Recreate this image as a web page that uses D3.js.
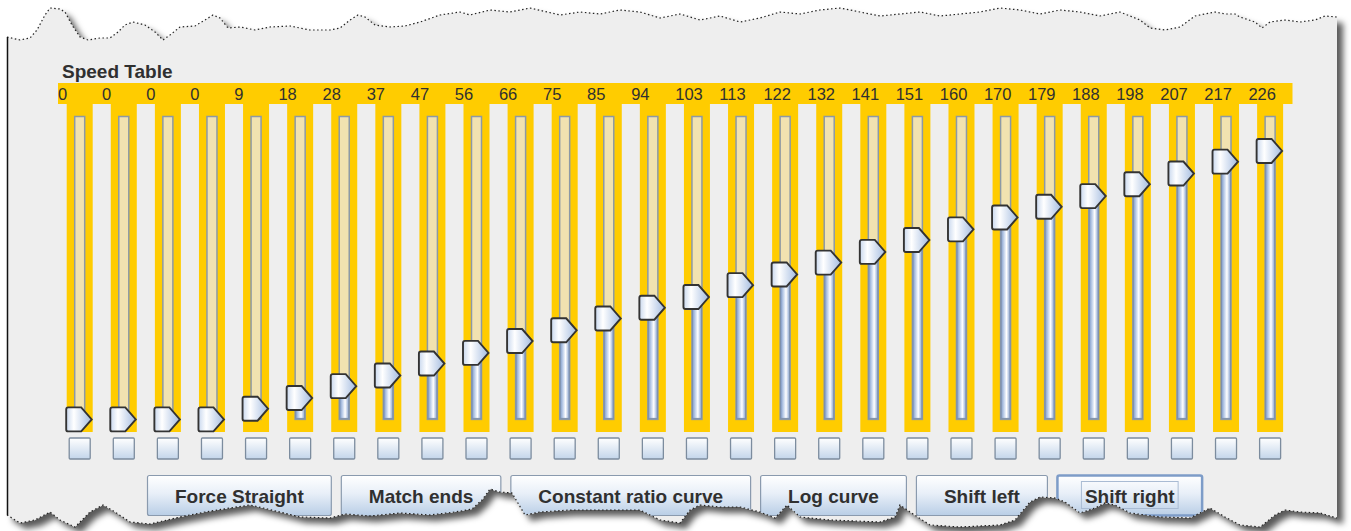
<!DOCTYPE html>
<html>
  <head>
    <meta charset="utf-8">
    <title>Speed Table</title>
    <style>
    body { margin: 0; border: 0; overflow: hidden; background: #fff; }
    text { fill: #303030; }
    .label { font-family: "Liberation Sans", Arial, sans-serif; font-size: 16.5px; }
    .title, .btn text { font-family: "Liberation Sans", Arial, sans-serif; font-size: 19px; font-weight: bold; }
    </style>
  </head>
  <body>
    <script src="https://cdnjs.cloudflare.com/ajax/libs/d3/7.8.5/d3.min.js"></script>
    <script>
// speed table data
var steps = [1, 2, 3, 4, 5, 6, 7, 8, 9, 10, 11, 12, 13, 14,
             15, 16, 17, 18, 19, 20, 21, 22, 23, 24, 25, 26, 27, 28];
var speedValues = [0, 0, 0, 0, 9, 18, 28, 37, 47, 56, 66, 75, 85, 94,
                   103, 113, 122, 132, 141, 151, 160, 170, 179, 188, 198, 207, 217, 226];
var speedMax = 255;
var buttonLabels = ["Force Straight", "Match ends", "Constant ratio curve", "Log curve", "Shift left", "Shift right"];
var focusedButton = "Shift right";

// torn paper edges (decoration only)
var topEdge = [[7,37],[20,40],[30,38],[37,30],[45,15],[50,8],[60,9],[65,12],[72,25],[80,37],[88,40],[100,38],[110,38],
  [118,32],[125,25],[133,22],[145,25],[155,32],[163,40],[170,35],[180,27],[195,26],[205,20],[213,15],[220,18],[228,28],
  [240,27],[255,30],[270,27],[290,26],[310,30],[330,30],[340,28],[350,20],[358,15],[365,17],[375,25],[390,27],[405,26],
  [420,22],[440,15],[460,12],[470,15],[490,10],[510,12],[530,8],[560,15],[580,12],[600,14],[620,10],[640,12],[660,18],
  [680,14],[700,20],[720,16],[740,22],[760,18],[780,12],[800,14],[820,10],[840,8],[860,12],[880,16],[900,14],[920,12],
  [940,16],[960,14],[980,12],[1000,8],[1020,10],[1040,14],[1060,10],[1080,12],[1100,16],[1120,12],[1140,20],[1150,28],
  [1165,30],[1180,27],[1195,16],[1205,14],[1215,12],[1225,14],[1235,14],[1240,17],[1255,22],[1262,28],[1270,22],
  [1285,20],[1300,22],[1315,20],[1325,16],[1337,17]];
var bottomEdge = [[7,515],[20,523],[35,520],[50,512],[60,520],[75,527],[90,512],[103,505],[115,512],[130,522],[150,524],
  [180,517],[205,512],[230,508],[250,505],[280,512],[300,517],[330,518],[345,514],[370,516],[400,513],[430,515],
  [455,512],[472,509],[482,500],[490,489],[500,492],[512,493],[525,515],[540,512],[570,510],[640,510],[660,520],[680,523],[690,510],
  [700,505],[720,507],[740,507],[760,512],[775,518],[787,505],[800,517],[830,520],[880,522],[895,517],[900,505],
  [910,512],[930,525],[960,527],[1000,525],[1015,520],[1030,502],[1040,497],[1055,498],[1065,502],[1080,513],
  [1095,508],[1105,503],[1115,505],[1130,513],[1160,517],[1190,518],[1210,508],[1225,517],[1240,525],[1260,527],
  [1275,515],[1285,510],[1300,512],[1320,513],[1337,518]];

var width = 1351, height = 531;

var x = d3.scaleBand().domain(steps).range([58, 1292.5]);
var y = d3.scaleLinear().domain([0, speedMax]).range([419.4, 116.5]);
var colOffset = 8.7, colWidth = 26;
function cx(d) { return x(d) + colOffset + colWidth / 2; }

var svg = d3.select("body").append("svg")
  .attr("width", width)
  .attr("height", height);

var defs = svg.append("defs");

function grad(id, horizontal, stops) {
  var g = defs.append("linearGradient").attr("id", id)
    .attr("x1", 0).attr("y1", 0)
    .attr("x2", horizontal ? 1 : 0).attr("y2", horizontal ? 0 : 1);
  stops.forEach(function(s) { g.append("stop").attr("offset", s[0]).attr("stop-color", s[1]); });
}
grad("thumbGrad", true, [[0, "#c9d8ee"], [0.3, "#ffffff"], [1, "#a4bce0"]]);
grad("fillGrad", true, [[0, "#7f9bc9"], [0.35, "#c8d7ee"], [0.6, "#ffffff"], [1, "#88a3cf"]]);
grad("boxGrad", false, [[0, "#ffffff"], [1, "#c3d5ea"]]);
grad("btnGrad", false, [[0, "#ffffff"], [0.45, "#e8eff8"], [1, "#b9cee6"]]);

var shadow = defs.append("filter").attr("id", "shadow")
  .attr("x", "-5%").attr("y", "-10%").attr("width", "110%").attr("height", "125%");
shadow.append("feDropShadow").attr("dx", 6).attr("dy", 6).attr("stdDeviation", 3)
  .attr("flood-color", "#000").attr("flood-opacity", 0.65);

var line = d3.line();
var panelPts = topEdge.concat(bottomEdge.slice().reverse());
var panelPath = line(panelPts) + "Z";

defs.append("clipPath").attr("id", "panelClip").append("path").attr("d", panelPath);

// paper
svg.append("path").attr("d", panelPath).attr("fill", "#eeeeee").attr("filter", "url(#shadow)");

var g = svg.append("g").attr("clip-path", "url(#panelClip)");

g.append("text").attr("class", "title").attr("x", 62).attr("y", 78).text("Speed Table");

// yellow header band and columns
g.append("rect")
  .attr("x", x.range()[0]).attr("y", 83)
  .attr("width", x.range()[1] - x.range()[0]).attr("height", 21)
  .attr("fill", "#ffcc00");

var col = g.selectAll("g.col")
  .data(steps)
  .enter().append("g")
  .attr("class", "col");

col.append("rect")
  .attr("x", function(d) { return x(d) + colOffset; })
  .attr("y", 103).attr("width", colWidth).attr("height", 329)
  .attr("fill", "#ffcc00");

col.append("text")
  .attr("class", "label")
  .attr("x", function(d) { return x(d); })
  .attr("y", 100)
  .text(function(d, i) { return speedValues[i]; });

// track
col.append("rect")
  .attr("x", function(d) { return cx(d) - 5; })
  .attr("y", y(speedMax)).attr("width", 10).attr("height", y(0) - y(speedMax))
  .attr("fill", "#f1e2b0").attr("stroke", "#8c99a6").attr("stroke-width", 1.5);

col.append("rect")
  .attr("x", function(d) { return cx(d) - 4.5; })
  .attr("y", function(d, i) { return y(speedValues[i]); })
  .attr("width", 9)
  .attr("height", function(d, i) { return y(0) - 1 - y(speedValues[i]); })
  .attr("fill", "url(#fillGrad)").attr("stroke", "#7d8fab").attr("stroke-width", 1);

// thumbs
col.append("path")
  .attr("d", function(d, i) {
    var l = x(d) + colOffset - 0.5, c = y(speedValues[i]);
    return "M" + l + "," + (c - 10) + "Q" + l + "," + (c - 12) + " " + (l + 2) + "," + (c - 12) +
      "H" + (l + 15) + "L" + (l + 25.5) + "," + c + "L" + (l + 15) + "," + (c + 12) +
      "H" + (l + 2) + "Q" + l + "," + (c + 12) + " " + l + "," + (c + 10) + "Z";
  })
  .attr("fill", "url(#thumbGrad)").attr("stroke", "#333").attr("stroke-width", 1.9);

// checkboxes
col.append("rect")
  .attr("x", function(d) { return cx(d) - 10.5; })
  .attr("y", 438).attr("width", 21).attr("height", 21).attr("rx", 1)
  .attr("fill", "url(#boxGrad)").attr("stroke", "#7c8c9e").attr("stroke-width", 1.3);

// buttons (flow layout, widths from text)
var btnPad = 28, btnGap = 9, bx = 147;
var btn = g.selectAll("g.btn")
  .data(buttonLabels)
  .enter().append("g")
  .attr("class", "btn");

var btnText = btn.append("text").attr("y", 503).text(function(d) { return d; });
var btnPos = [];
btnText.each(function(d) {
  var w = this.getComputedTextLength() + 2 * btnPad;
  btnPos.push({x: bx, w: w, tw: w - 2 * btnPad});
  bx += w + btnGap;
});

btn.insert("rect", "text")
  .attr("x", function(d, i) { return btnPos[i].x + 0.5; })
  .attr("y", 475.5).attr("width", function(d, i) { return btnPos[i].w - 1; }).attr("height", 40).attr("rx", 2)
  .attr("fill", "url(#btnGrad)")
  .attr("stroke", function(d) { return d === focusedButton ? "#7d9cc8" : "#8a9aae"; })
  .attr("stroke-width", function(d) { return d === focusedButton ? 2.5 : 1.2; });

btnText.attr("x", function(d, i) { return btnPos[i].x + btnPad; });

btn.filter(function(d) { return d === focusedButton; })
  .insert("rect", "text")
  .attr("x", function(d) { var p = btnPos[buttonLabels.indexOf(d)]; return p.x + btnPad - 3.5; })
  .attr("y", 481.5)
  .attr("width", function(d) { return btnPos[buttonLabels.indexOf(d)].tw + 7; })
  .attr("height", 27)
  .attr("fill", "none").attr("stroke", "#a9bbd3").attr("stroke-width", 1);

// edges of the paper
svg.append("path").attr("d", line(topEdge))
  .attr("fill", "none").attr("stroke", "#222").attr("stroke-width", 1.2).attr("stroke-dasharray", "1.5,2.5");
svg.append("path").attr("d", line(bottomEdge))
  .attr("fill", "none").attr("stroke", "#222").attr("stroke-width", 1.2).attr("stroke-dasharray", "1.5,2.5");
svg.append("line")
  .attr("x1", 7.5).attr("x2", 7.5).attr("y1", topEdge[0][1]).attr("y2", bottomEdge[0][1])
  .attr("stroke", "#111").attr("stroke-width", 1.5);
    </script>
  </body>
</html>
